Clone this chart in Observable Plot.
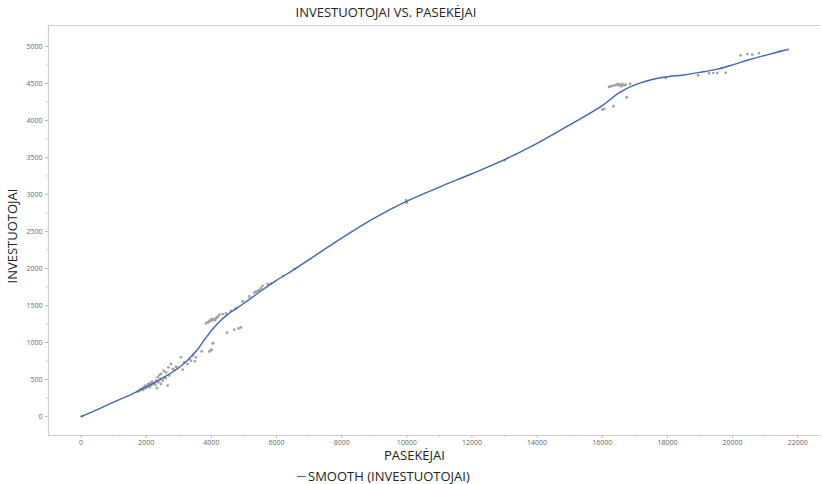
<!DOCTYPE html>
<html>
<head>
<meta charset="utf-8">
<script src="https://cdn.jsdelivr.net/npm/d3@7"></script>
<script src="https://cdn.jsdelivr.net/npm/@observablehq/plot@0.6"></script>
<style>
  html, body { margin: 0; padding: 0; background: #fff; }
  #wrap { position: relative; width: 822px; height: 484px; font-family: "Open Sans", sans-serif; color: #222; }
  #wrap svg { position: absolute; left: 0; top: 0; }
  .lbl { position: absolute; font-size: 13px; white-space: nowrap; line-height: 1; }
  #title { left: 0; width: 772px; top: 6px; text-align: center; }
  #xlabel { left: 384px; top: 449px; }
  #ylabel { left: 12px; top: 236px; transform: translate(-50%, -50%) rotate(-90deg); }
  #legend { left: 297px; top: 470px; display: flex; align-items: center; }
  #legend .sw { display: inline-block; width: 9px; height: 1.5px; background: #4466b0; margin-right: 2px; }
</style>
</head>
<body>
<div id="wrap">
  <div class="lbl" id="title">INVESTUOTOJAI VS. PASEKĖJAI</div>
  <div class="lbl" id="ylabel">INVESTUOTOJAI</div>
  <div class="lbl" id="xlabel">PASEKĖJAI</div>
  <div class="lbl" id="legend"><span class="sw"></span>SMOOTH (INVESTUOTOJAI)</div>
</div>
<script>
// Scatter data: PASEKĖJAI (x) vs INVESTUOTOJAI (y)
const scatterX = [
  30,
  1739, 1789, 1820, 1841, 1892, 1900, 1943, 1964, 1980, 2025, 2050, 2066, 2097, 2120, 2148, 2180, 2199, 2250,
  2280, 2301, 2332, 2352, 2373, 2400, 2434, 2450, 2454, 2506, 2536, 2557, 2600, 2608, 2659, 2680, 2710, 2761,
  2812, 2863, 2914, 2966, 3068, 3119, 3170, 3272, 3323, 3374, 3425, 3497, 3527, 3701, 3937, 4009, 4039,
  3988, 4060, 3835, 3886, 3900, 3937, 3960, 3988, 4010, 4039, 4090, 4110, 4141, 4172, 4200, 4244, 4346, 4448,
  4602, 4755, 4960, 5164, 5318, 5369, 5420, 5471, 5522, 5573, 5726, 5829, 4479, 4704, 4837, 4909,
  6200, 6550, 9980, 10000, 13000,
  16005, 16056, 16342, 16751, 16209, 16260, 16311, 16383, 16444, 16485, 16516, 16546, 16587, 16618, 16669,
  16720, 16853, 17948, 18940, 19278, 19411, 19534, 19790, 19670, 20249, 20454, 20607, 20812, 21455, 21700
];
const scatterY = [
  5,
  337, 350, 370, 364, 387, 360, 395, 418, 380, 404, 420, 440, 395, 450, 418, 470, 440, 449,
  430, 485, 387, 530, 463, 560, 508, 440, 575, 485, 620, 530, 520, 598, 418, 665, 553, 710,
  643, 629, 674, 656, 800, 633, 732, 710, 777, 755, 822, 746, 800, 880, 880, 899, 988,
  899, 993, 1258, 1271, 1275, 1285, 1300, 1294, 1320, 1303, 1317, 1300, 1325, 1339, 1350, 1375, 1384, 1393,
  1429, 1460, 1554, 1622, 1676, 1689, 1698, 1708, 1735, 1766, 1789, 1797, 1132, 1173, 1190, 1204,
  1900, 1995, 2925, 2890, 3460,
  4147, 4156, 4192, 4314, 4453, 4462, 4466, 4475, 4485, 4493, 4475, 4485, 4462, 4493, 4475,
  4485, 4493, 4574, 4610, 4637, 4640, 4642, 4644, 4710, 4880, 4897, 4889, 4911, 4934, 4957
];

// Smooth curve SMOOTH (INVESTUOTOJAI)
const smoothX = [0, 500, 1000, 1500, 2000, 2500, 3000, 3300, 3600, 3800, 4000, 4200, 4500, 5000, 5500, 6000,
  6500, 7000, 8000, 9000, 10000, 11000, 12000, 13000, 14000, 15000, 16000, 16500, 17000, 17500, 18000,
  18500, 19000, 19500, 20000, 20500, 21000, 21650];
const smoothY = [0, 95, 195, 290, 400, 520, 660, 775, 920, 1045, 1160, 1260, 1380, 1530, 1690, 1840,
  1975, 2120, 2410, 2680, 2910, 3100, 3280, 3470, 3690, 3940, 4200, 4370, 4480, 4550, 4590,
  4615, 4650, 4690, 4750, 4820, 4880, 4955];

// Tick values
const xTicks = [0, 2000, 4000, 6000, 8000, 10000, 12000, 14000, 16000, 18000, 20000, 22000];
const xMinor = [1000, 3000, 5000, 7000, 9000, 11000, 13000, 15000, 17000, 19000, 21000];
const yTicks = [0, 500, 1000, 1500, 2000, 2500, 3000, 3500, 4000, 4500, 5000];
const yMinor = [250, 750, 1250, 1750, 2250, 2750, 3250, 3750, 4250, 4750];

const points = scatterX.map((x, i) => ({x, y: scatterY[i]}));
const smooth = smoothX.map((x, i) => ({x, y: smoothY[i]}));

const chart = Plot.plot({
  width: 822,
  height: 484,
  marginLeft: 48,
  marginRight: 2,
  marginTop: 25,
  marginBottom: 49,
  style: {background: "transparent", fontFamily: "Open Sans, sans-serif", fontSize: "7px", color: "#555"},
  x: {domain: [-1000, 22700], label: null},
  y: {domain: [-256, 5283], label: null},
  marks: [
    Plot.ruleY([5283], {stroke: "#cfcfcf", strokeWidth: 1.2}),
    Plot.ruleX([-1000], {stroke: "#cfcfcf", strokeWidth: 1.2}),
    Plot.ruleY([-256], {stroke: "#cfcfcf", strokeWidth: 1.2}),
    Plot.axisX({ticks: xTicks, tickSize: 3, tickPadding: 2, tickFormat: d => String(d), stroke: "#bbb", fill: "#666", fontSize: 7}),
    Plot.axisX({ticks: xMinor, tickSize: 2, text: null, stroke: "#ccc"}),
    Plot.axisY({ticks: yTicks, tickSize: 3, tickPadding: 3, tickFormat: d => String(d), stroke: "#bbb", fill: "#666", fontSize: 7}),
    Plot.axisY({ticks: yMinor, tickSize: 2, text: null, stroke: "#ccc"}),
    Plot.dot(points, {x: "x", y: "y", r: 1.4, fill: "#a3a3a3", stroke: "none"}),
    Plot.line(smooth, {x: "x", y: "y", curve: "catmull-rom", stroke: "#4466b0", strokeWidth: 1.4})
  ]
});
document.getElementById("wrap").prepend(chart);
</script>
</body>
</html>
